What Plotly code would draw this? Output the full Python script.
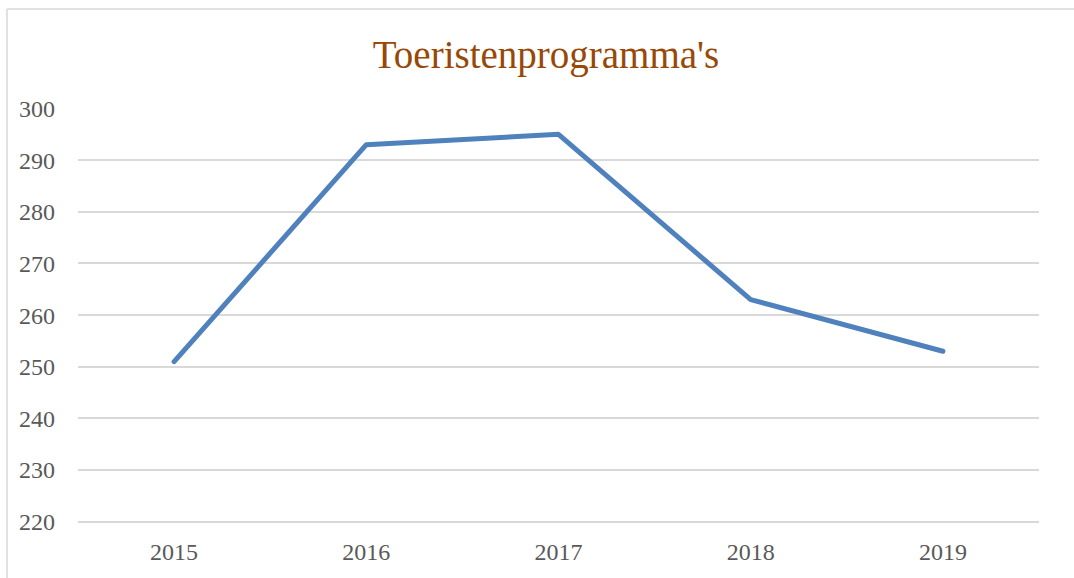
import plotly.graph_objects as go

years = ["2015", "2016", "2017", "2018", "2019"]
values = [251, 293, 295, 263, 253]
y_ticks = [220, 230, 240, 250, 260, 270, 280, 290, 300]

W, H = 1074, 578
L, R, T, B = 78, 35, 108, 55
pw, ph = W - L - R, H - T - B

fig = go.Figure(go.Scatter(
    x=years, y=values, mode="lines",
    line=dict(color="#4F81BD", width=5),
    hoverinfo="x+y",
))

font_family = "Liberation Serif, DejaVu Serif, serif"

fig.update_layout(
    width=W, height=H,
    margin=dict(l=L, r=R, t=T, b=B),
    paper_bgcolor="white", plot_bgcolor="white",
    showlegend=False,
    title=dict(text="Toeristenprogramma's", x=546 / W, xanchor="center",
               y=1 - 54 / H, yanchor="middle",
               font=dict(family=font_family, size=39, color="#984807")),
    xaxis=dict(type="category", range=[-0.5, 4.5], showgrid=False, zeroline=False,
               showline=False, ticks="", tickfont=dict(family=font_family, size=24, color="#595959"),
               ticklabelstandoff=12),
    yaxis=dict(range=[219.75, 300.1], tickvals=y_ticks, showgrid=True, gridcolor="#D9D9D9",
               gridwidth=1.5, zeroline=False, showline=False, ticks="",
               tickfont=dict(family=font_family, size=24, color="#595959"),
               ticklabelstandoff=22),
    shapes=[
        dict(type="line", xref="paper", yref="paper",
             x0=(7 - L) / pw, x1=(7 - L) / pw, y0=(T - 9) / ph + 1, y1=-0.5,
             line=dict(color="#D9D9D9", width=1.5)),
        dict(type="line", xref="paper", yref="paper",
             x0=(7 - L) / pw, x1=1.2, y0=(T - 9) / ph + 1, y1=(T - 9) / ph + 1,
             line=dict(color="#D9D9D9", width=1.5)),
    ],
)

fig.write_html("out.html", config={"displayModeBar": False},
               post_script="document.body.style.margin='0';"
                           "document.querySelectorAll('.scatterlayer path.js-line').forEach(function(p){p.style.strokeLinecap='round';p.style.strokeLinejoin='round';});")
